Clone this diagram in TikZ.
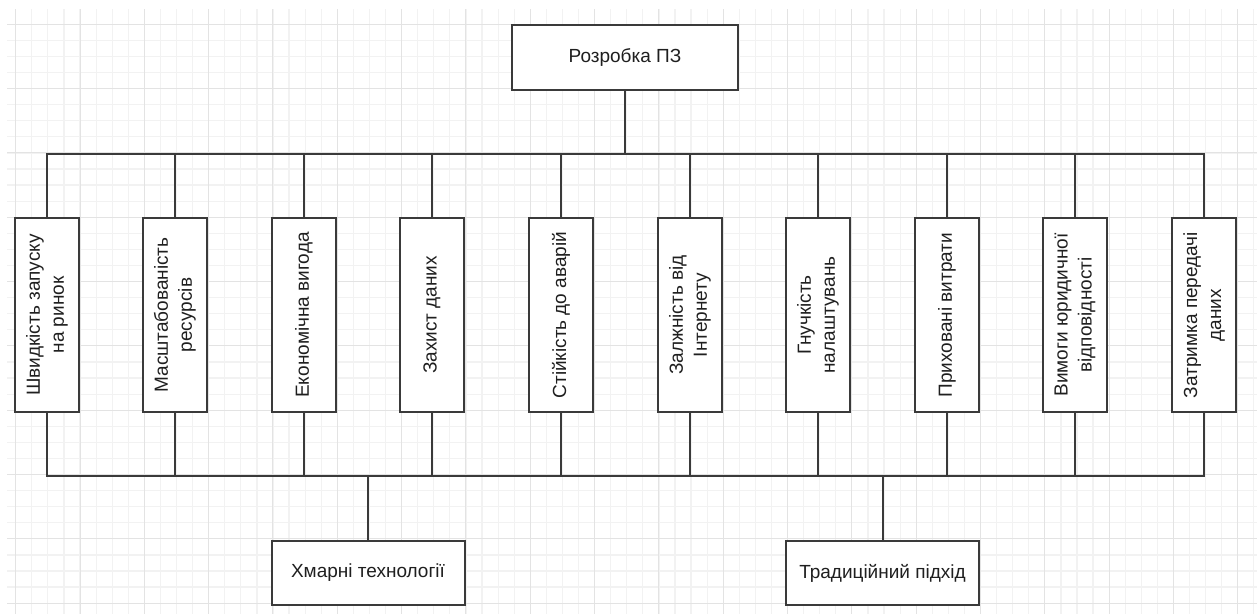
\documentclass[tikz,border=0pt]{standalone}
\usepackage{fontspec}
\setmainfont{Liberation Sans}
\definecolor{linec}{HTML}{3A3A3A}
\definecolor{gmaj}{HTML}{E3E3E3}
\definecolor{gmin}{HTML}{F2F2F2}
\tikzset{
  box/.style={draw=linec, line width=2pt, fill=white, rectangle, inner sep=2pt, align=center, font=\fontsize{19}{24}\selectfont, text=black!88},
  hbox/.style={box, minimum width=193pt, minimum height=64.5pt},
  vbox/.style={box, rotate=90, minimum width=194pt, minimum height=64.5pt},
  conn/.style={draw=linec, line width=2pt}
}
\begin{document}
\begin{tikzpicture}[x=1pt,y=-1pt]
\useasboundingbox (0,0) rectangle (1257,614);
\fill[white] (0,0) rectangle (1257,614);
% grid
\begin{scope}
\clip (7,9) rectangle (1257,614);
\foreach \i in {0,...,78} {
  \pgfmathsetmacro{\xx}{15.7+16.08*\i}
  \draw[gmin, line width=1.2pt] (\xx,0) -- (\xx,614);
}
\foreach \i in {0,...,38} {
  \pgfmathsetmacro{\yy}{8.2+16.08*\i}
  \draw[gmin, line width=1.2pt] (0,\yy) -- (1257,\yy);
}
\foreach \i in {0,...,19} {
  \pgfmathsetmacro{\xx}{15.7+64.32*\i}
  \draw[gmaj, line width=1pt] (\xx,0) -- (\xx,614);
}
\foreach \i in {0,...,9} {
  \pgfmathsetmacro{\yy}{24.3+64.32*\i}
  \draw[gmaj, line width=1pt] (0,\yy) -- (1257,\yy);
}
\end{scope}

\node[box, minimum width=225.5pt, minimum height=64.5pt] (top) at (625,57.5) {Розробка ПЗ};

\node[vbox] (b1) at (47,315) {Швидкість запуску\\на ринок};
\node[vbox] (b2) at (175,315) {Масштабованість\\ресурсів};
\node[vbox] (b3) at (304,315) {Економічна вигода};
\node[vbox] (b4) at (432,315) {Захист даних};
\node[vbox] (b5) at (561,315) {Стійкість до аварій};
\node[vbox] (b6) at (690,315) {Залжність від\\Інтернету};
\node[vbox] (b7) at (818,315) {Гнучкість\\налаштувань};
\node[vbox] (b8) at (947,315) {Приховані витрати};
\node[vbox] (b9) at (1075,315) {Вимоги юридичної\\відповідності};
\node[vbox] (b10) at (1204,315) {Затримка передачі\\даних};

\node[hbox] (cloud) at (368,573) {Хмарні технології};
\node[hbox] (trad) at (882.5,573) {Традиційний підхід};

\coordinate (busT) at (0,154);
\coordinate (busB) at (0,476);

\draw[conn] (top.south) -- (top.south |- busT);
\draw[conn, line cap=rect] (b1.east |- busT) -- (b10.east |- busT);
\draw[conn, line cap=rect] (b1.west |- busB) -- (b10.west |- busB);
\foreach \n in {b1,b2,b3,b4,b5,b6,b7,b8,b9,b10} {
  \draw[conn] (\n.east) -- (\n.east |- busT);
  \draw[conn] (\n.west) -- (\n.west |- busB);
}
\draw[conn] (cloud.north) -- (cloud.north |- busB);
\draw[conn] (trad.north) -- (trad.north |- busB);
\end{tikzpicture}
\end{document}
